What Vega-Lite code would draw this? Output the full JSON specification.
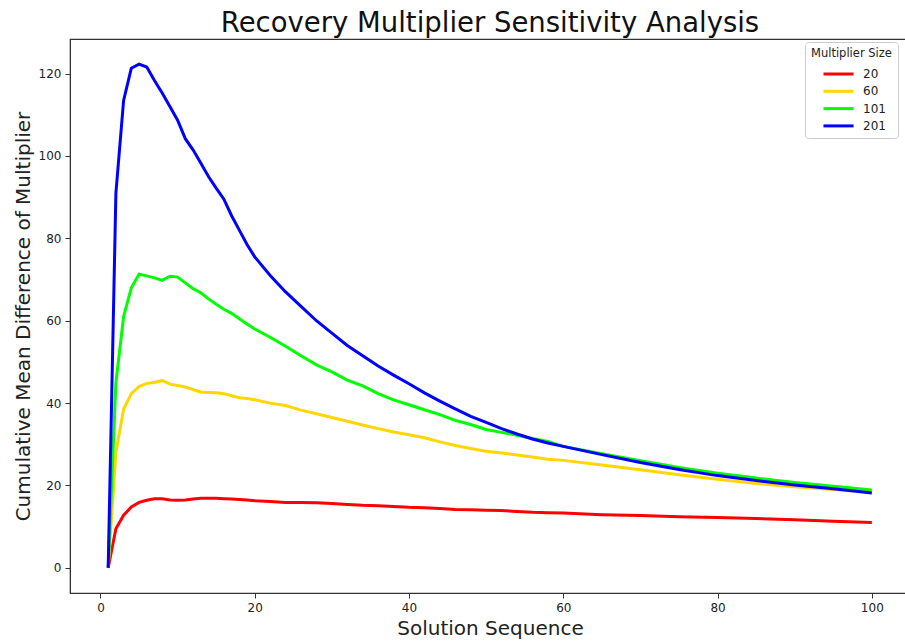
{
  "$schema": "https://vega.github.io/schema/vega-lite/v6.json",
  "autosize": {"type": "none"},
  "width": 840,
  "height": 554,
  "padding": {"left": 70, "top": 39, "right": 0, "bottom": 51},
  "background": "white",
  "config": {
    "font": "DejaVu Sans",
    "view": {"stroke": "#333333", "strokeWidth": 1.2},
    "axis": {"grid": false, "domainColor": "#333333", "tickColor": "#333333", "labelColor": "#222222", "labelFontSize": 12, "titleFontSize": 20, "titleFontWeight": "normal", "titleColor": "#222222", "tickSize": 5, "labelPadding": 4}
  },
  "title": {"text": "Recovery Multiplier Sensitivity Analysis", "fontSize": 27.5, "fontWeight": "normal", "color": "#111111", "offset": 2, "anchor": "middle"},
  "data": {"values": [
    {"seq":1,"diff":0,"size":"20"},{"seq":2,"diff":9.5,"size":"20"},{"seq":3,"diff":12.8,"size":"20"},{"seq":4,"diff":14.8,"size":"20"},{"seq":5,"diff":15.9,"size":"20"},{"seq":6,"diff":16.4,"size":"20"},{"seq":7,"diff":16.8,"size":"20"},{"seq":8,"diff":16.8,"size":"20"},{"seq":9,"diff":16.5,"size":"20"},{"seq":10,"diff":16.4,"size":"20"},{"seq":11,"diff":16.5,"size":"20"},{"seq":12,"diff":16.7,"size":"20"},{"seq":13,"diff":16.9,"size":"20"},{"seq":14,"diff":16.9,"size":"20"},{"seq":15,"diff":16.9,"size":"20"},{"seq":16,"diff":16.8,"size":"20"},{"seq":17,"diff":16.7,"size":"20"},{"seq":18,"diff":16.6,"size":"20"},{"seq":19,"diff":16.5,"size":"20"},{"seq":20,"diff":16.3,"size":"20"},{"seq":22,"diff":16.1,"size":"20"},{"seq":24,"diff":15.9,"size":"20"},{"seq":26,"diff":15.9,"size":"20"},{"seq":28,"diff":15.8,"size":"20"},{"seq":30,"diff":15.6,"size":"20"},{"seq":32,"diff":15.4,"size":"20"},{"seq":34,"diff":15.2,"size":"20"},{"seq":36,"diff":15.1,"size":"20"},{"seq":38,"diff":14.9,"size":"20"},{"seq":40,"diff":14.7,"size":"20"},{"seq":42,"diff":14.6,"size":"20"},{"seq":44,"diff":14.4,"size":"20"},{"seq":46,"diff":14.2,"size":"20"},{"seq":48,"diff":14.1,"size":"20"},{"seq":50,"diff":14.0,"size":"20"},{"seq":52,"diff":13.9,"size":"20"},{"seq":54,"diff":13.7,"size":"20"},{"seq":56,"diff":13.5,"size":"20"},{"seq":58,"diff":13.4,"size":"20"},{"seq":60,"diff":13.3,"size":"20"},{"seq":65,"diff":12.9,"size":"20"},{"seq":70,"diff":12.7,"size":"20"},{"seq":75,"diff":12.4,"size":"20"},{"seq":80,"diff":12.2,"size":"20"},{"seq":85,"diff":12.0,"size":"20"},{"seq":90,"diff":11.7,"size":"20"},{"seq":95,"diff":11.3,"size":"20"},{"seq":100,"diff":11.0,"size":"20"},
    {"seq":1,"diff":0,"size":"60"},{"seq":2,"diff":28,"size":"60"},{"seq":3,"diff":38.5,"size":"60"},{"seq":4,"diff":42.3,"size":"60"},{"seq":5,"diff":44,"size":"60"},{"seq":6,"diff":44.8,"size":"60"},{"seq":7,"diff":45,"size":"60"},{"seq":8,"diff":45.5,"size":"60"},{"seq":9,"diff":44.6,"size":"60"},{"seq":10,"diff":44.3,"size":"60"},{"seq":11,"diff":43.9,"size":"60"},{"seq":12,"diff":43.3,"size":"60"},{"seq":13,"diff":42.7,"size":"60"},{"seq":14,"diff":42.6,"size":"60"},{"seq":15,"diff":42.5,"size":"60"},{"seq":16,"diff":42.3,"size":"60"},{"seq":17,"diff":41.8,"size":"60"},{"seq":18,"diff":41.3,"size":"60"},{"seq":19,"diff":41.1,"size":"60"},{"seq":20,"diff":40.8,"size":"60"},{"seq":22,"diff":40,"size":"60"},{"seq":24,"diff":39.4,"size":"60"},{"seq":26,"diff":38.3,"size":"60"},{"seq":28,"diff":37.4,"size":"60"},{"seq":30,"diff":36.5,"size":"60"},{"seq":32,"diff":35.6,"size":"60"},{"seq":34,"diff":34.7,"size":"60"},{"seq":36,"diff":33.8,"size":"60"},{"seq":38,"diff":33,"size":"60"},{"seq":40,"diff":32.3,"size":"60"},{"seq":42,"diff":31.6,"size":"60"},{"seq":44,"diff":30.6,"size":"60"},{"seq":46,"diff":29.7,"size":"60"},{"seq":48,"diff":29,"size":"60"},{"seq":50,"diff":28.3,"size":"60"},{"seq":52,"diff":27.9,"size":"60"},{"seq":54,"diff":27.4,"size":"60"},{"seq":56,"diff":26.9,"size":"60"},{"seq":58,"diff":26.4,"size":"60"},{"seq":60,"diff":26.1,"size":"60"},{"seq":65,"diff":25,"size":"60"},{"seq":70,"diff":23.8,"size":"60"},{"seq":75,"diff":22.6,"size":"60"},{"seq":80,"diff":21.5,"size":"60"},{"seq":85,"diff":20.5,"size":"60"},{"seq":90,"diff":19.7,"size":"60"},{"seq":95,"diff":19,"size":"60"},{"seq":100,"diff":18.4,"size":"60"},
    {"seq":1,"diff":0,"size":"101"},{"seq":2,"diff":45,"size":"101"},{"seq":3,"diff":61,"size":"101"},{"seq":4,"diff":68,"size":"101"},{"seq":5,"diff":71.3,"size":"101"},{"seq":6,"diff":70.9,"size":"101"},{"seq":7,"diff":70.4,"size":"101"},{"seq":8,"diff":69.8,"size":"101"},{"seq":9,"diff":70.8,"size":"101"},{"seq":10,"diff":70.6,"size":"101"},{"seq":11,"diff":69.2,"size":"101"},{"seq":12,"diff":67.8,"size":"101"},{"seq":13,"diff":66.8,"size":"101"},{"seq":14,"diff":65.3,"size":"101"},{"seq":15,"diff":64,"size":"101"},{"seq":16,"diff":62.8,"size":"101"},{"seq":17,"diff":61.8,"size":"101"},{"seq":18,"diff":60.5,"size":"101"},{"seq":19,"diff":59.2,"size":"101"},{"seq":20,"diff":58,"size":"101"},{"seq":22,"diff":56,"size":"101"},{"seq":24,"diff":53.8,"size":"101"},{"seq":26,"diff":51.5,"size":"101"},{"seq":28,"diff":49.3,"size":"101"},{"seq":30,"diff":47.6,"size":"101"},{"seq":32,"diff":45.6,"size":"101"},{"seq":34,"diff":44.2,"size":"101"},{"seq":36,"diff":42.3,"size":"101"},{"seq":38,"diff":40.8,"size":"101"},{"seq":40,"diff":39.6,"size":"101"},{"seq":42,"diff":38.4,"size":"101"},{"seq":44,"diff":37.2,"size":"101"},{"seq":46,"diff":35.8,"size":"101"},{"seq":48,"diff":34.8,"size":"101"},{"seq":50,"diff":33.6,"size":"101"},{"seq":52,"diff":32.9,"size":"101"},{"seq":54,"diff":32.2,"size":"101"},{"seq":56,"diff":31.4,"size":"101"},{"seq":58,"diff":30.7,"size":"101"},{"seq":60,"diff":29.5,"size":"101"},{"seq":65,"diff":27.7,"size":"101"},{"seq":70,"diff":26,"size":"101"},{"seq":75,"diff":24.4,"size":"101"},{"seq":80,"diff":23,"size":"101"},{"seq":85,"diff":21.8,"size":"101"},{"seq":90,"diff":20.7,"size":"101"},{"seq":95,"diff":19.8,"size":"101"},{"seq":100,"diff":18.9,"size":"101"},
    {"seq":1,"diff":0,"size":"201"},{"seq":2,"diff":91,"size":"201"},{"seq":3,"diff":113.5,"size":"201"},{"seq":4,"diff":121.3,"size":"201"},{"seq":5,"diff":122.3,"size":"201"},{"seq":6,"diff":121.6,"size":"201"},{"seq":7,"diff":118.3,"size":"201"},{"seq":8,"diff":115.3,"size":"201"},{"seq":9,"diff":112,"size":"201"},{"seq":10,"diff":108.7,"size":"201"},{"seq":11,"diff":104.2,"size":"201"},{"seq":12,"diff":101.5,"size":"201"},{"seq":13,"diff":98.3,"size":"201"},{"seq":14,"diff":95,"size":"201"},{"seq":15,"diff":92.2,"size":"201"},{"seq":16,"diff":89.5,"size":"201"},{"seq":17,"diff":85.5,"size":"201"},{"seq":18,"diff":82,"size":"201"},{"seq":19,"diff":78.5,"size":"201"},{"seq":20,"diff":75.5,"size":"201"},{"seq":22,"diff":71,"size":"201"},{"seq":24,"diff":67,"size":"201"},{"seq":26,"diff":63.5,"size":"201"},{"seq":28,"diff":60,"size":"201"},{"seq":30,"diff":57,"size":"201"},{"seq":32,"diff":54,"size":"201"},{"seq":34,"diff":51.5,"size":"201"},{"seq":36,"diff":49,"size":"201"},{"seq":38,"diff":46.8,"size":"201"},{"seq":40,"diff":44.7,"size":"201"},{"seq":42,"diff":42.5,"size":"201"},{"seq":44,"diff":40.5,"size":"201"},{"seq":46,"diff":38.6,"size":"201"},{"seq":48,"diff":36.8,"size":"201"},{"seq":50,"diff":35.3,"size":"201"},{"seq":52,"diff":33.8,"size":"201"},{"seq":54,"diff":32.5,"size":"201"},{"seq":56,"diff":31.3,"size":"201"},{"seq":58,"diff":30.3,"size":"201"},{"seq":60,"diff":29.5,"size":"201"},{"seq":65,"diff":27.5,"size":"201"},{"seq":70,"diff":25.6,"size":"201"},{"seq":75,"diff":23.9,"size":"201"},{"seq":80,"diff":22.4,"size":"201"},{"seq":85,"diff":21.2,"size":"201"},{"seq":90,"diff":20.1,"size":"201"},{"seq":95,"diff":19.2,"size":"201"},{"seq":100,"diff":18.2,"size":"201"}
  ]},
  "mark": {"type": "line", "strokeWidth": 3, "clip": true},
  "encoding": {
    "x": {"field": "seq", "type": "quantitative", "title": "Solution Sequence", "scale": {"domain": [-3.95, 104.95], "nice": false, "zero": false}, "axis": {"values": [0,20,40,60,80,100], "titlePadding": 5}},
    "y": {"field": "diff", "type": "quantitative", "title": "Cumulative Mean Difference of Multiplier", "scale": {"domain": [-6.1, 128.4], "nice": false}, "axis": {"values": [0,20,40,60,80,100,120], "titlePadding": 5}},
    "color": {"field": "size", "type": "nominal", "title": "Multiplier Size", "sort": ["20","60","101","201"], "scale": {"domain": ["20","60","101","201"], "range": ["#ff0000","#ffd700","#00ff00","#0000ff"]}, "legend": {"orient": "none", "legendX": 735, "legendY": 3, "symbolType": "M-1.67,0H1.67", "symbolStrokeWidth": 3, "symbolSize": 324, "symbolOffset": 17, "strokeColor": "#cccccc", "cornerRadius": 3, "padding": 6, "titleFontSize": 11.5, "titleFontWeight": "normal", "titleColor": "#222222", "titlePadding": 4, "labelFontSize": 12, "labelColor": "#222222", "labelOffset": 14, "rowPadding": 0.3, "fillColor": "white"}}
  }
}
